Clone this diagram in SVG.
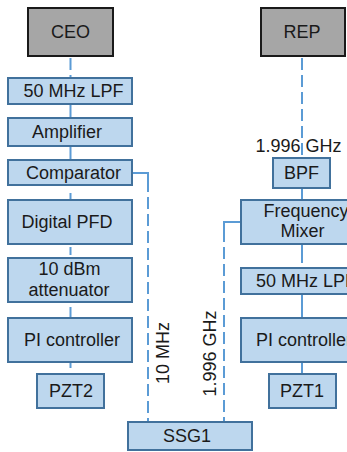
<svg xmlns="http://www.w3.org/2000/svg" width="347" height="452" viewBox="0 0 347 452">
<style>
.box{fill:#bdd7ee;stroke:#41719c;stroke-width:2}
.src{fill:#a6a6a6;stroke:#1a1a1a;stroke-width:2}
text{font-family:"Liberation Sans",Arial,sans-serif;font-size:18px;fill:#1a1a1a;text-anchor:middle}
.c{fill:none;stroke:#5b9bd5;stroke-width:2}
.d{stroke-dasharray:12,5}
</style>
<rect width="347" height="452" fill="#ffffff"/>
<g id="connectors">
<line class="c d" x1="70.5" y1="58" x2="70.5" y2="77"/>
<line class="c" x1="70.5" y1="105" x2="70.5" y2="117"/>
<line class="c" x1="70.5" y1="147" x2="70.5" y2="159"/>
<line class="c" x1="70.5" y1="193" x2="70.5" y2="199"/>
<line class="c" x1="70.5" y1="247" x2="70.5" y2="255"/>
<line class="c" x1="70.5" y1="307" x2="70.5" y2="317"/>
<line class="c" x1="70.5" y1="363" x2="70.5" y2="368"/>
<polyline class="c" points="133,173 148,173 148,180"/>
<line class="c d" x1="148" y1="180" x2="148" y2="421"/>
<line class="c d" x1="302" y1="58" x2="302" y2="157"/>
<line class="c" x1="302" y1="189" x2="302" y2="199"/>
<line class="c" x1="302" y1="245" x2="302" y2="263"/>
<line class="c" x1="302" y1="295" x2="302" y2="317"/>
<line class="c" x1="302" y1="363" x2="302" y2="373"/>
<polyline class="c" points="240,222 224,222 224,230"/>
<line class="c d" x1="224" y1="230" x2="224" y2="421"/>
</g>
<g id="ceo"><rect class="src" x="28" y="8" width="85" height="48"/><text x="70.5" y="38">CEO</text></g>
<g id="rep"><rect class="src" x="261" y="8" width="84" height="48"/><text x="302" y="38">REP</text></g>
<g id="lpf50a"><rect class="box" x="8" y="78" width="124" height="26"/><text x="73.5" y="97">50 MHz LPF</text></g>
<g id="amplifier"><rect class="box" x="8" y="118" width="124" height="28"/><text x="67" y="138">Amplifier</text></g>
<g id="comparator"><rect class="box" x="8" y="160" width="124" height="25"/><text x="73.5" y="179">Comparator</text></g>
<g id="pfd"><rect class="box" x="8" y="200" width="124" height="44"/><text x="67" y="228">Digital PFD</text></g>
<g id="attenuator"><rect class="box" x="8" y="258" width="124" height="44"/><text x="69.5" y="275">10 dBm</text><text x="69" y="296">attenuator</text></g>
<g id="pi2"><rect class="box" x="8" y="318" width="124" height="44"/><text x="72" y="346">PI controller</text></g>
<g id="pzt2"><rect class="box" x="37" y="374" width="67" height="34"/><text x="71" y="397">PZT2</text></g>
<g id="ssg1"><rect class="box" x="128" y="422" width="124" height="28"/><text x="187" y="442">SSG1</text></g>
<g id="bpf"><rect class="box" x="273" y="158" width="57" height="30"/><text x="301.5" y="179">BPF</text></g>
<text x="298.5" y="152">1.996 GHz</text>
<g id="mixer"><rect class="box" x="241" y="200" width="124" height="44"/><text x="306" y="217">Frequency</text><text x="302.5" y="237">Mixer</text></g>
<g id="lpf50b"><rect class="box" x="241" y="268" width="124" height="26"/><text x="306" y="287">50 MHz LPF</text></g>
<g id="pi1"><rect class="box" x="241" y="318" width="124" height="44"/><text x="304" y="346">PI controller</text></g>
<g id="pzt1"><rect class="box" x="269" y="374" width="67" height="34"/><text x="302" y="397">PZT1</text></g>
<text transform="translate(169,353) rotate(-90)">10 MHz</text>
<text transform="translate(216,353.5) rotate(-90)">1.996 GHz</text>
</svg>
